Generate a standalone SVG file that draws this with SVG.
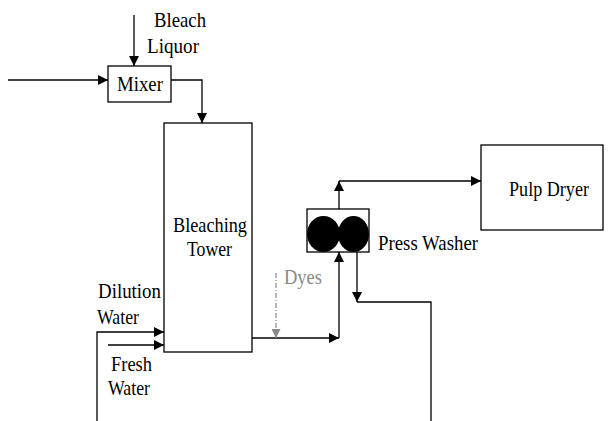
<svg xmlns="http://www.w3.org/2000/svg" width="610" height="421" viewBox="0 0 610 421">
<style>
.box{fill:#fff;stroke:#000;stroke-width:1.3}
.ln{fill:none;stroke:#000;stroke-width:1.3}
.dy{fill:none;stroke:#888;stroke-width:1.2;stroke-dasharray:5,2,1,2}
</style>
<defs>
<marker id="ah" viewBox="0 0 10 10" refX="10" refY="5" markerWidth="10" markerHeight="10" markerUnits="userSpaceOnUse" orient="auto"><path d="M0,0L10,5L0,10z" fill="#000"/></marker>
<marker id="ag" viewBox="0 0 10 10" refX="10" refY="5" markerWidth="9" markerHeight="9" markerUnits="userSpaceOnUse" orient="auto"><path d="M0,0L10,5L0,10z" fill="#888"/></marker>
</defs>
<g font-family="'Liberation Serif', 'Times New Roman', serif" font-size="21" fill="#000">
<g id="connectors">
<line class="ln" x1="134" y1="15" x2="134" y2="66" marker-end="url(#ah)"/>
<line class="ln" x1="8" y1="80" x2="108" y2="80" marker-end="url(#ah)"/>
<polyline class="ln" points="171,80 202,80 202,123" marker-end="url(#ah)"/>
<polyline class="ln" points="97,421 97,332 164,332" marker-end="url(#ah)"/>
<line class="ln" x1="108" y1="345" x2="164" y2="345" marker-end="url(#ah)"/>
<line class="ln" x1="252" y1="338" x2="339" y2="338" marker-end="url(#ah)"/>
<line class="ln" x1="339" y1="338" x2="339" y2="252" marker-end="url(#ah)"/>
<polyline class="ln" points="339,209 339,181" marker-end="url(#ah)"/>
<line class="ln" x1="339" y1="181" x2="481" y2="181" marker-end="url(#ah)"/>
<line class="ln" x1="357" y1="252" x2="357" y2="302" marker-end="url(#ah)"/>
<polyline class="ln" points="357,302 431,302 431,421"/>
<line class="dy" x1="276" y1="273" x2="276" y2="338" marker-end="url(#ag)"/>
<text x="284" y="284" textLength="38" lengthAdjust="spacingAndGlyphs" fill="#888">Dyes</text>
</g>
<g id="bleach-liquor"><text x="154" y="27" textLength="52" lengthAdjust="spacingAndGlyphs">Bleach</text><text x="147" y="53" textLength="52" lengthAdjust="spacingAndGlyphs">Liquor</text></g>
<g id="mixer"><rect class="box" x="108" y="66" width="63" height="36"/><text x="117" y="91" textLength="46" lengthAdjust="spacingAndGlyphs">Mixer</text></g>
<g id="tower"><rect class="box" x="164" y="123" width="88" height="229"/><text x="173" y="232" textLength="74" lengthAdjust="spacingAndGlyphs">Bleaching</text><text x="187" y="256" textLength="45" lengthAdjust="spacingAndGlyphs">Tower</text></g>
<g id="dilution-water"><text x="98" y="298" textLength="63" lengthAdjust="spacingAndGlyphs">Dilution</text><text x="97" y="324" textLength="42" lengthAdjust="spacingAndGlyphs">Water</text></g>
<g id="fresh-water"><text x="111" y="371" textLength="41" lengthAdjust="spacingAndGlyphs">Fresh</text><text x="108" y="395" textLength="42" lengthAdjust="spacingAndGlyphs">Water</text></g>
<g id="press-washer"><rect class="box" x="307" y="209" width="62" height="43"/><ellipse cx="323.5" cy="234" rx="16.5" ry="18"/><ellipse cx="353.5" cy="234" rx="15.5" ry="18"/><text x="378" y="250" textLength="100" lengthAdjust="spacingAndGlyphs">Press Washer</text></g>
<g id="pulp-dryer"><rect class="box" x="481" y="145" width="122" height="85"/><text x="509" y="196" textLength="80" lengthAdjust="spacingAndGlyphs">Pulp Dryer</text></g>
</g>
</svg>
